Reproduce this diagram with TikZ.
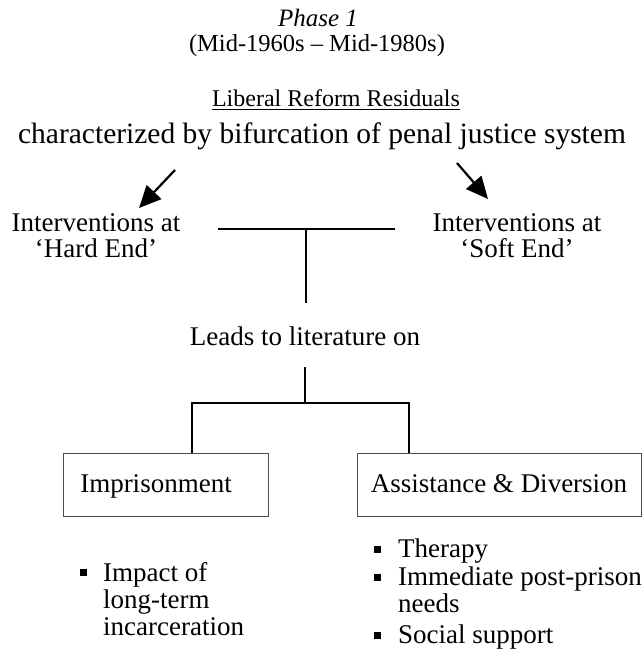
\documentclass[tikz,border=0pt]{standalone}
\usepackage{fontspec}
\setmainfont{Liberation Serif}
\usetikzlibrary{arrows.meta}
\newcommand{\vlines}[1]{\vtop{\halign{##\hfil\cr#1\crcr}}}
\newcommand{\vclines}[1]{\vtop{\halign{\hfil##\hfil\cr#1\crcr}}}
\begin{document}
\begin{tikzpicture}[x=1pt,y=-1pt,
  txt/.style={inner sep=0pt,anchor=base,font=\fontsize{27}{27}\selectfont},
  conn/.style={line width=2.8pt},
  arr/.style={line width=2.2pt,-{Triangle[length=22pt,width=20pt]}},
  bx/.style={draw=black!70,line width=0.8pt,inner sep=0pt},
  bul/.style={fill=black,inner sep=0pt,minimum size=7pt}]
\useasboundingbox (0,0) rectangle (642,665);
% headings
\node[txt,font=\fontsize{25}{28}\selectfont\itshape] (phase) at (318,26) {Phase 1};
\node[txt,font=\fontsize{24.5}{28}\selectfont] (dates) at (317,51) {(Mid-1960s -- Mid-1980s)};
\node[txt,font=\fontsize{24}{28}\selectfont] (title) at (336,106) {Liberal Reform Residuals};
\draw[line width=1pt] ([yshift=-3pt]title.base west) -- ([yshift=-3pt]title.base east);
\node[txt,font=\fontsize{29.5}{30}\selectfont] (char) at (322,143) {characterized by bifurcation of penal justice system};
% interventions
\node[txt,font=\fontsize{27}{26}\selectfont] (hard) at (96,231) {\vclines{Interventions at\cr `Hard End'}};
\node[txt,font=\fontsize{27}{26}\selectfont] (soft) at (517,231) {\vclines{Interventions at\cr `Soft End'}};
\coordinate (la0) at (175,170); \coordinate (la1) at (139,208);
\coordinate (ra0) at (457,163); \coordinate (ra1) at (488,199);
\draw[arr] (la0) -- (la1);
\draw[arr] (ra0) -- (ra1);
% T-bar
\coordinate (tl) at (218,229); \coordinate (tr) at (395,229);
\coordinate (tm) at (306,229); \coordinate (tb) at (306,303);
\draw[conn] (tl) -- (tr);
\draw[conn] (tm) -- (tb);
\node[txt] (leads) at (305,345) {Leads to literature on};
% fork
\coordinate (f0) at (305,367); \coordinate (f1) at (305,403);
\coordinate (fl) at (192,403); \coordinate (fr) at (409,403);
\node[bx,minimum width=205pt,minimum height=63pt] (imp) at (165.5,484.5) {};
\node[bx,minimum width=284pt,minimum height=63pt] (ass) at (499,484.5) {};
\node[txt] (impt) at (156,492) {Imprisonment};
\node[txt] (asst) at (499,492) {Assistance \& Diversion};
\draw[conn] (f0) -- (f1);
\draw[conn,line cap=rect] (fl) -- (fr);
\draw[conn] (fl) -- (fl |- imp.north);
\draw[conn] (fr) -- (fr |- ass.north);
% bullets left
\node[bul] (b1) at (83,572) {};
\node[txt,anchor=base west] (t1) at (103,581) {\vlines{Impact of\cr long-term\cr incarceration}};
% bullets right
\node[bul] (b2) at (377,549) {};
\node[txt,anchor=base west] (t2) at (398,557) {Therapy};
\node[bul] (b3) at (377,577) {};
\node[txt,anchor=base west] (t3) at (398,585) {\vlines{Immediate post-prison\cr needs}};
\node[bul] (b4) at (377,635) {};
\node[txt,anchor=base west] (t4) at (398,643) {Social support};
\end{tikzpicture}
\end{document}
